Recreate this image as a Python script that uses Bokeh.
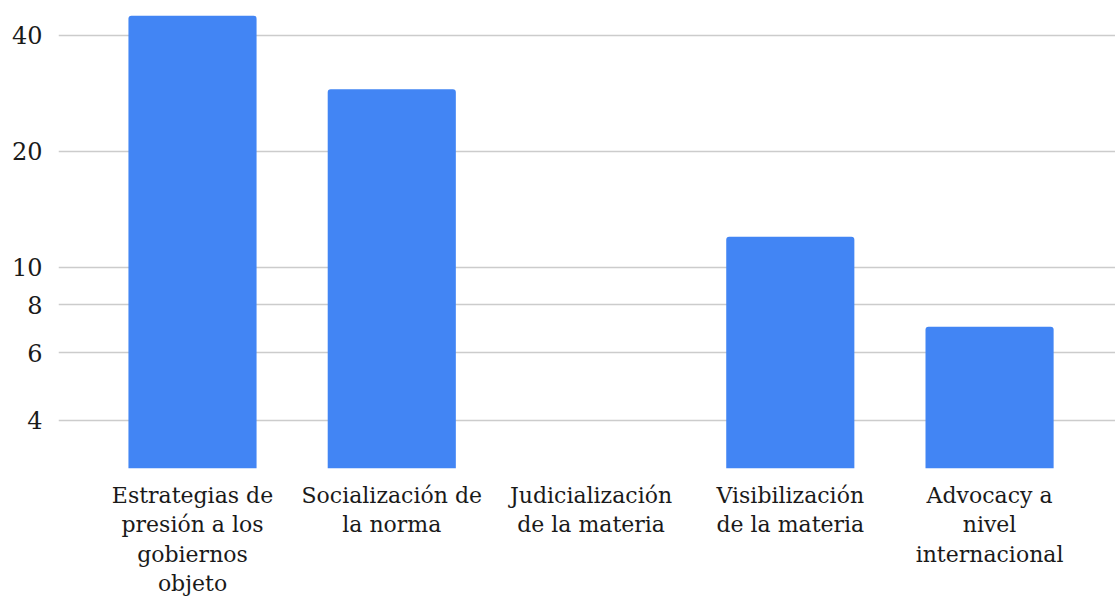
from bokeh.plotting import figure
from bokeh.models import FixedTicker, Range1d, PrintfTickFormatter
from bokeh.embed import file_html
from bokeh.resources import INLINE

categories = [
    "Estrategias de\npresión a los\ngobiernos\nobjeto",
    "Socialización de\nla norma",
    "Judicialización\nde la materia",
    "Visibilización\nde la materia",
    "Advocacy a\nnivel\ninternacional",
]
values = [45, 29, 0, 12, 7]
y_ticks = [4, 6, 8, 10, 20, 40]

Y_MIN, Y_MAX = 3, 49.3
FONT = "DejaVu Serif"

xs = list(range(len(categories)))
tops = [max(v, Y_MIN) for v in values]

p = figure(frame_width=1057, frame_height=468, y_axis_type="log",
           x_range=Range1d(-0.6725, 4.632), y_range=Range1d(Y_MIN, Y_MAX),
           output_backend="svg", toolbar_location=None,
           min_border_left=58, min_border_right=0, min_border_top=0, min_border_bottom=0)
p.outline_line_color = None
p.background_fill_color = "white"

p.vbar(x=xs, top=tops, bottom=Y_MIN, width=0.643, fill_color="#4285F4",
       line_color=None, border_radius=(3, 3, 0, 0))

p.xgrid.grid_line_color = None
p.ygrid.ticker = FixedTicker(ticks=y_ticks)
p.ygrid.grid_line_color = "#cccccc"
p.ygrid.grid_line_width = 1.5

ya = p.yaxis[0]
ya.ticker = FixedTicker(ticks=y_ticks)
ya.formatter = PrintfTickFormatter(format="%d")
ya.axis_line_color = None
ya.major_tick_line_color = None
ya.minor_tick_line_color = None
ya.major_tick_out = 0
ya.major_label_standoff = 16
ya.major_label_text_font = FONT
ya.major_label_text_font_size = "24px"
ya.major_label_text_color = "#1a1a1a"

xa = p.xaxis[0]
xa.ticker = FixedTicker(ticks=xs)
xa.major_label_overrides = {i: c for i, c in zip(xs, categories)}
xa.axis_line_color = None
xa.major_tick_line_color = None
xa.minor_tick_line_color = None
xa.major_tick_out = 0
xa.major_label_standoff = 14
xa.major_label_text_font = FONT
xa.major_label_text_font_size = "22px"
xa.major_label_text_color = "#1a1a1a"
xa.major_label_text_line_height = 1.18

open("out.html", "w").write(file_html(p, INLINE))
